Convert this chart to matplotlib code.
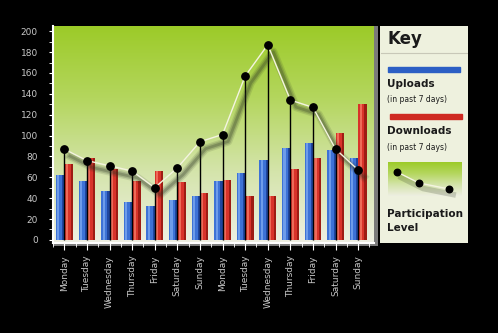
import numpy as np
import matplotlib.pyplot as plt
import matplotlib.patheffects as pe
from matplotlib.colors import LinearSegmentedColormap

days = ["Monday", "Tuesday", "Wednesday", "Thursday", "Friday", "Saturday", "Sunday",
        "Monday", "Tuesday", "Wednesday", "Thursday", "Friday", "Saturday", "Sunday"]
uploads = [62, 56, 47, 36, 32, 38, 42, 56, 64, 77, 88, 93, 86, 78]
downloads = [73, 78, 68, 56, 66, 55, 45, 57, 42, 42, 68, 78, 102, 130]
participation = [87, 76, 71, 66, 50, 69, 94, 101, 157, 187, 134, 127, 87, 67]
yticks = [0, 20, 40, 60, 80, 100, 120, 140, 160, 180, 200]

W, H = 498, 333
fig = plt.figure(figsize=(W / 100, H / 100), dpi=100)
fig.patch.set_facecolor("black")

def px_axes(x0, y0, x1, y1):
    return fig.add_axes([x0 / W, 1 - y1 / H, (x1 - x0) / W, (y1 - y0) / H])

# chart frame shadow
sh = px_axes(53, 26, 378, 246)
sh.set_facecolor("#7a7a7a")
sh.set_xticks([]); sh.set_yticks([])
for s in sh.spines.values():
    s.set_visible(False)

ax = px_axes(53, 26, 374, 243)
x = np.arange(len(days))
xlim = (-0.45, 13.7)
ylim = (-3, 205)

green = LinearSegmentedColormap.from_list("g", ["#eeefe2", "#d4e4aa", "#b4d65e", "#9ccb28"])
grad = np.linspace(0, 1, 256).reshape(-1, 1)
ax.imshow(grad, extent=[xlim[0], xlim[1], ylim[0], ylim[1]], origin="lower",
          aspect="auto", cmap=green, zorder=0)

w = 0.37
ax.bar(x - w / 2, uploads, w, color="#3d72d6", zorder=2)
ax.bar(x - w / 2 - w * 0.2, uploads, w * 0.25, color="#6e9cea", zorder=2)
ax.bar(x - w * 0.12, uploads, w * 0.25, color="#20469e", zorder=2)
ax.bar(x + w / 2, downloads, w, color="#d8332a", zorder=2)
ax.bar(x + w / 2 - w * 0.2, downloads, w * 0.25, color="#ee6a58", zorder=2)
ax.bar(x + w * 0.88, downloads, w * 0.25, color="#9e1c14", zorder=2)

ax.vlines(x, 0, participation, color="black", lw=1, zorder=3)
shadow = [pe.SimpleLineShadow(offset=(4, -5), shadow_color="#283020", alpha=a, linewidth=lw)
          for a, lw in [(0.12, 6), (0.18, 4), (0.25, 2)]]
ax.plot(x, participation, color="#f4f4e0", lw=1, zorder=4,
        path_effects=shadow + [pe.Normal()])
ax.scatter(x, participation, s=28, color="black", zorder=5)

ax.set_xlim(*xlim)
ax.set_ylim(*ylim)
ax.set_yticks(yticks)
ax.set_yticks(np.arange(0, 201, 10), minor=True)
ax.set_xticks(x)
ax.set_xticks(np.arange(-0.5, 13.6, 0.5), minor=True)
ax.set_xticklabels(days, rotation=90, fontsize=6.5, color="#c8c8c8")
ax.tick_params(axis="y", labelsize=6.5, labelcolor="#c8c8c8", color="white", length=3, pad=8)
ax.tick_params(axis="x", color="white", length=5, pad=4)
ax.tick_params(which="minor", color="white", length=3)
for k in ["top", "right"]:
    ax.spines[k].set_visible(False)
ax.spines["left"].set_color("white")
ax.spines["left"].set_linewidth(1.5)
ax.spines["bottom"].set_color("white")
ax.spines["bottom"].set_linewidth(1.5)

# key panel
lg = px_axes(380, 26, 468, 243)
lg.set_facecolor("#eef1de")
lg.set_xticks([]); lg.set_yticks([])
for s in lg.spines.values():
    s.set_visible(False)
tc = "#1a1a1a"
lg.text(387, 39, "Key", fontsize=12, fontweight="bold", color=tc, va="center")
lg.plot([381, 467], [53, 53], color="#c8c8b8", lw=0.8)
lg.add_patch(plt.Rectangle((388, 67), 72, 5, color="#2c5fc4"))
lg.text(387, 84, "Uploads", fontsize=7.5, fontweight="bold", color=tc, va="center")
lg.text(387, 100, "(in past 7 days)", fontsize=5.5, color=tc, va="center")
lg.add_patch(plt.Rectangle((390, 114), 72, 5, color="#cf2a22"))
lg.text(387, 131, "Downloads", fontsize=7.5, fontweight="bold", color=tc, va="center")
lg.text(387, 147, "(in past 7 days)", fontsize=5.5, color=tc, va="center")
lg.imshow(grad, extent=[388, 462, 196, 162], origin="lower", aspect="auto",
          cmap=green, zorder=1)
kx = [397, 419, 449]
ky = [172, 183, 189]
lg.plot(kx, ky, color="#f4f4e0", lw=1, zorder=2,
        path_effects=[pe.SimpleLineShadow(offset=(3, -4), shadow_color="#283020", alpha=0.2, linewidth=4), pe.Normal()])
lg.scatter(kx, ky, s=22, color="black", zorder=3)
lg.set_xlim(380, 468)
lg.set_ylim(243, 26)
lg.text(387, 214, "Participation", fontsize=7.5, fontweight="bold", color=tc, va="center")
lg.text(387, 228, "Level", fontsize=7.5, fontweight="bold", color=tc, va="center")

fig.savefig("out.png", dpi=100, facecolor=fig.get_facecolor())
